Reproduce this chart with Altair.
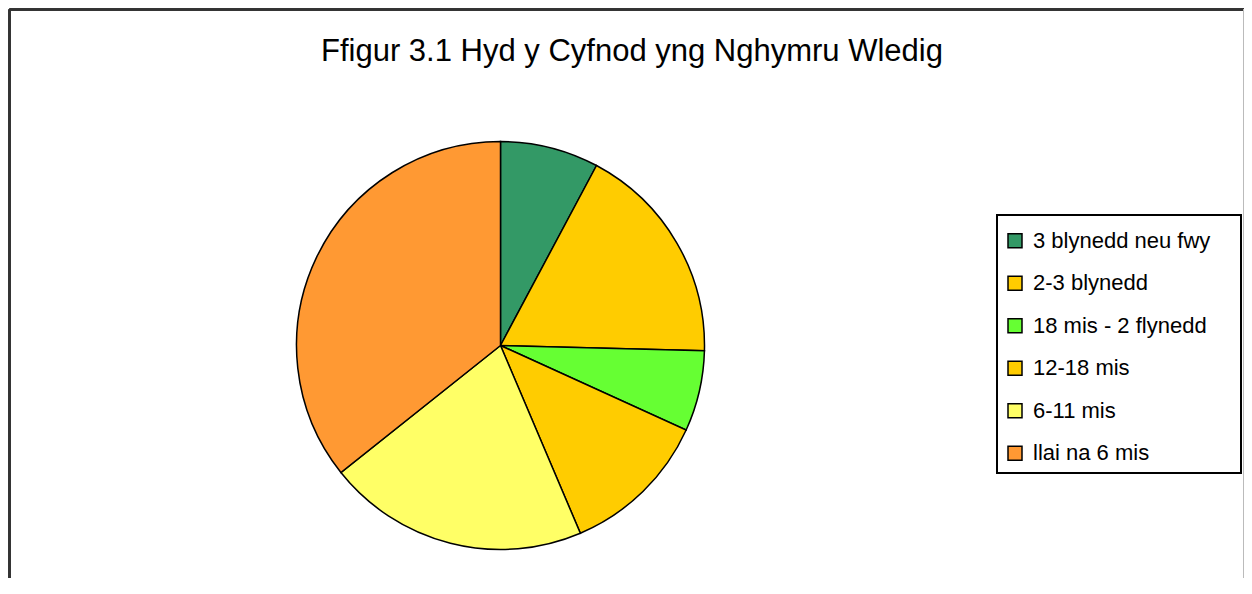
import altair as alt
import pandas as pd

categories = ["3 blynedd neu fwy", "2-3 blynedd", "18 mis - 2 flynedd",
              "12-18 mis", "6-11 mis", "llai na 6 mis"]
values = [7.8, 17.6, 6.4, 11.8, 20.7, 35.7]
colors = ["#339966", "#FFCC00", "#66FF33", "#FFCC00", "#FFFF66", "#FF9933"]
order = list(range(len(categories)))

df = pd.DataFrame({"cat": categories, "val": values, "ord": order})

FONT = "Liberation Sans"
W, H, PT = 1236, 500, 70

pie = alt.Chart(df).mark_arc(
    radius=204, stroke="black", strokeWidth=1.5
).encode(
    theta=alt.Theta("val:Q", stack=True),
    order=alt.Order("ord:Q"),
    color=alt.Color(
        "cat:N",
        scale=alt.Scale(domain=categories, range=colors),
        sort=categories,
        title=None,
        legend=alt.Legend(
            orient="none", legendX=996, legendY=151.7,
            symbolType="square", symbolSize=196,
            symbolStrokeColor="black", symbolStrokeWidth=1.5,
            labelFont=FONT, labelFontSize=22, labelColor="black",
            labelOffset=7, rowPadding=20.5, padding=0,
            labelLimit=400,
        ),
    ),
    x=alt.value(492.5),
    y=alt.value(267.5),
)

legend_box = alt.Chart(df).mark_rect(
    fillOpacity=0, stroke="black", strokeWidth=1.5
).encode(
    x=alt.value(989), x2=alt.value(1233),
    y=alt.value(137), y2=alt.value(395),
)

left_rule = alt.Chart(df).mark_rule(color="#333333", strokeWidth=2).encode(
    x=alt.value(1.5), y=alt.value(-68.5), y2=alt.value(H)
)
top_rule = alt.Chart(df).mark_rule(color="#333333", strokeWidth=2).encode(
    x=alt.value(1.5), x2=alt.value(W), y=alt.value(-68.5)
)
right_rule = alt.Chart(df).mark_rule(color="#bbbbbb", strokeWidth=1).encode(
    x=alt.value(W - 0.5), y=alt.value(-68.5), y2=alt.value(H)
)

chart = alt.layer(left_rule, top_rule, right_rule, legend_box, pie).properties(
    width=W, height=H,
    autosize=alt.AutoSizeParams(type="none"),
    padding={"left": 0, "top": PT, "right": 0, "bottom": 0},
    title=alt.TitleParams(
        "Ffigur 3.1 Hyd y Cyfnod yng Nghymru Wledig",
        font=FONT, fontSize=31, fontWeight="normal", color="black",
        anchor="middle", frame="group", baseline="alphabetic",
        offset=17, dx=6, dy=100.5,
    ),
).configure_view(stroke=None)

chart.save("out.html", embed_options={"renderer": "svg", "actions": False})
